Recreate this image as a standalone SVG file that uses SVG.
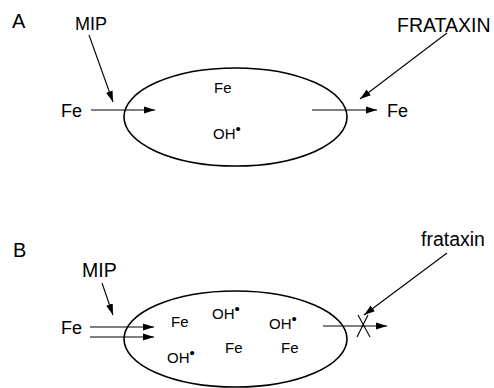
<svg xmlns="http://www.w3.org/2000/svg" width="494" height="388" viewBox="0 0 494 388">
<style>
text{font-family:"Liberation Sans",Arial,sans-serif;fill:#000}
.lbl{font-size:20px}
.mip{font-size:18px}
.mipb{font-size:19.5px}
.big{font-size:18px}
.frx{font-size:19.5px}
.in{font-size:15px}
.dot{font-size:15px}
.cell{fill:none;stroke:#000;stroke-width:1.6}
.arr{fill:none;stroke:#000;stroke-width:1.1;marker-end:url(#ah)}
.ln{fill:none;stroke:#000;stroke-width:1.1}
</style>
<defs>
<marker id="ah" markerUnits="userSpaceOnUse" markerWidth="12" markerHeight="8" refX="11" refY="4" orient="auto">
<path d="M0,0.5 L11,4 L0,7.5 Z" fill="#000"/>
</marker>
</defs>
<g id="panelA-label"><text class="lbl" x="12" y="28">A</text></g>
<g id="panelB-label"><text class="lbl" x="13" y="257">B</text></g>
<g id="cellA"><ellipse class="cell" cx="235.5" cy="117" rx="111.5" ry="49"/>
<text class="in" x="214" y="93">Fe</text>
<text class="in" x="213" y="139">OH<tspan class="dot" dy="-5">•</tspan></text></g>
<g id="cellB"><ellipse class="cell" cx="235.5" cy="339" rx="111.5" ry="48"/>
<text class="in" x="171" y="327">Fe</text>
<text class="in" x="212" y="319">OH<tspan class="dot" dy="-5">•</tspan></text>
<text class="in" x="269" y="329">OH<tspan class="dot" dy="-5">•</tspan></text>
<text class="in" x="167" y="363">OH<tspan class="dot" dy="-5">•</tspan></text>
<text class="in" x="225" y="353">Fe</text>
<text class="in" x="281" y="353">Fe</text></g>
<g id="mipA"><text class="mip" x="75" y="30">MIP</text></g>
<g id="feInA"><text class="big" x="61" y="117">Fe</text></g>
<g id="feOutA"><text class="big" x="387" y="117">Fe</text></g>
<g id="frataxinA"><text class="frx" x="397" y="32">FRATAXIN</text></g>
<g id="mipB"><text class="mipb" x="82" y="277">MIP</text></g>
<g id="feInB"><text class="big" x="61" y="334">Fe</text></g>
<g id="frataxinB"><text class="frx" x="421" y="246">frataxin</text></g>
<g id="connectors">
<line class="arr" x1="89" y1="35" x2="113" y2="102"/>
<line class="arr" x1="91" y1="110" x2="155" y2="110"/>
<line class="arr" x1="312" y1="110" x2="377" y2="110"/>
<line class="arr" x1="447" y1="33" x2="360" y2="99"/>
<line class="arr" x1="102" y1="283" x2="113" y2="315"/>
<line class="arr" x1="90" y1="327" x2="154" y2="327"/>
<line class="arr" x1="90" y1="337" x2="154" y2="337"/>
<line class="arr" x1="323" y1="326" x2="387" y2="326"/>
<line class="arr" x1="447" y1="253" x2="364" y2="315"/>
<line class="ln" x1="358" y1="315" x2="370" y2="337"/>
<line class="ln" x1="368" y1="315" x2="357" y2="337"/>
</g>
</svg>
